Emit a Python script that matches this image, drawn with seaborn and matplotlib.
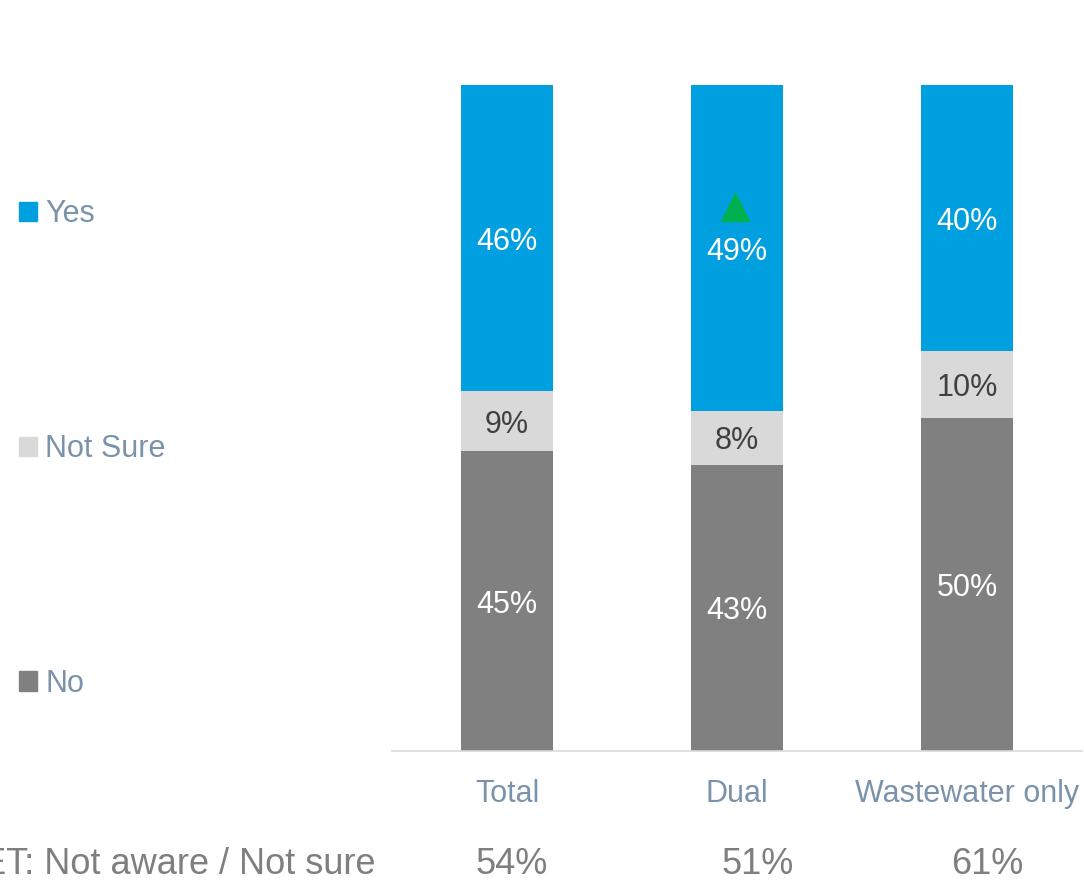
import matplotlib
matplotlib.use("Agg")
import matplotlib.pyplot as plt
import seaborn as sns
import pandas as pd

categories = ["Total", "Dual", "Wastewater only"]
no_vals = [45, 43, 50]
not_sure_vals = [9, 8, 10]
yes_vals = [46, 49, 40]
net_label = "NET: Not aware / Not sure"
net_vals = ["54%", "51%", "61%"]
up_flags = [False, True, False]

BLUE = "#009FDF"
LIGHT = "#D9D9D9"
DARK = "#808080"
LEGEND_TXT = "#7A93AB"
BOTTOM_TXT = "#7F7F7F"
GREEN = "#00B050"

sns.set_theme(style="white")
plt.rcParams["font.family"] = ["Liberation Sans", "DejaVu Sans"]

df = pd.DataFrame({"cat": categories, "no": no_vals, "ns": not_sure_vals, "yes": yes_vals})
df["lvl2"] = df["no"] + df["ns"]
df["lvl3"] = df["lvl2"] + df["yes"]

fig = plt.figure(figsize=(10.84, 8.82), dpi=100)
ax = fig.add_axes([392 / 1084, 1 - 751 / 882, 690 / 1084, 666 / 882])

# Stacked bars drawn as overlaid cumulative totals
for col, color in [("lvl3", BLUE), ("lvl2", LIGHT), ("no", DARK)]:
    sns.barplot(data=df, x="cat", y=col, color=color, saturation=1, width=0.4,
                ax=ax, linewidth=0, errorbar=None)

ax.set_xlim(-0.5, 2.5)
ax.set_ylim(0, 100)
ax.set_xlabel("")
ax.set_ylabel("")
ax.set_yticks([])
for s in ["top", "right", "left"]:
    ax.spines[s].set_visible(False)
ax.spines["bottom"].set_color(LIGHT)
ax.spines["bottom"].set_linewidth(1.2)
ax.tick_params(axis="x", length=0, pad=20, labelsize=22, labelcolor=LEGEND_TXT)

# Segment value labels
lab = dict(ha="center", va="center_baseline", fontsize=22)
for i in range(len(categories)):
    n, s, y = no_vals[i], not_sure_vals[i], yes_vals[i]
    ax.text(i, n / 2, f"{n}%", color="white", **lab)
    ax.text(i, n + s / 2, f"{s}%", color="#404040", **lab)
    ax.text(i, n + s + y / 2, f"{y}%", color="white", **lab)
    if up_flags[i]:
        ax.plot(i - 0.01, n + s + y / 2 + 6.2, marker="^", color=GREEN,
                markersize=20, linestyle="none")

# Legend
handles = [plt.Rectangle((0, 0), 1, 1, color=c) for c in (BLUE, LIGHT, DARK)]
leg = fig.legend(handles, ["Yes", "Not Sure", "No"], loc="center left",
                 bbox_to_anchor=(0.003, 1 - 449 / 882), frameon=False,
                 fontsize=22, handlelength=0.6, handleheight=0.6,
                 handletextpad=0.28, labelspacing=6.7, borderpad=0)
for t in leg.get_texts():
    t.set_color(LEGEND_TXT)

# Net row below the axis
fig.text(375 / 1084, 1 - 865 / 882, net_label, ha="right", va="center",
         fontsize=26, color=BOTTOM_TXT)
for i, v in enumerate(net_vals):
    ax.text(i + 0.02 + 0.07 * (i > 0), -17.1, v, ha="center", va="center",
            fontsize=26, color=BOTTOM_TXT, clip_on=False)

fig.savefig("out.png", dpi=100)
